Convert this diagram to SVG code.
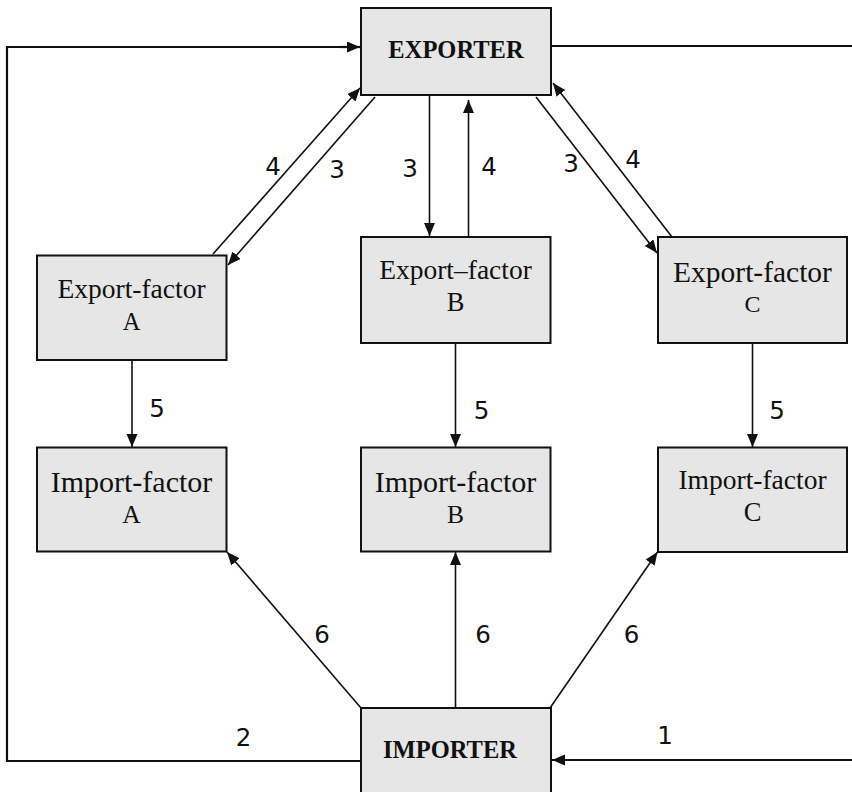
<svg xmlns="http://www.w3.org/2000/svg" width="852" height="792" viewBox="0 0 852 792">
<style>
.box{fill:#e6e6e6;stroke:#111;stroke-width:2}
.t{font-family:"Liberation Serif","Times New Roman",serif;fill:#111;text-anchor:middle}
.b{font-weight:bold}
.c{fill:none;stroke:#111;stroke-width:1.6}
.f{fill:none;stroke:#111;stroke-width:2.2}
.n{font-family:"DejaVu Sans",Verdana,sans-serif;font-size:24.5px;fill:#111;text-anchor:middle}
</style>
<defs>
<marker id="ah" markerUnits="userSpaceOnUse" markerWidth="14" markerHeight="12" refX="13" refY="5.5" orient="auto">
<path d="M0,0 L13,5.5 L0,11 z" fill="#111"/>
</marker>
</defs>
<g id="connectors">
<polyline class="f" points="11,761 7,761 7,47 349,47"/>
<line class="f" x1="340" y1="47" x2="360" y2="47" marker-end="url(#ah)"/>
<line class="f" x1="551" y1="46" x2="852" y2="46"/>
<line class="f" x1="11" y1="761" x2="361" y2="761"/>
<line class="f" x1="852" y1="760" x2="552" y2="760" marker-end="url(#ah)"/>
<line class="c" x1="213" y1="254" x2="360" y2="88" marker-end="url(#ah)"/>
<line class="c" x1="375" y1="97" x2="228" y2="265" marker-end="url(#ah)"/>
<line class="c" x1="429.5" y1="96" x2="429.5" y2="236" marker-end="url(#ah)"/>
<line class="c" x1="468.5" y1="237" x2="468.5" y2="100" marker-end="url(#ah)"/>
<line class="c" x1="536" y1="97" x2="657" y2="253" marker-end="url(#ah)"/>
<line class="c" x1="672" y1="237" x2="553" y2="83" marker-end="url(#ah)"/>
<line class="c" x1="132" y1="360" x2="132" y2="447" marker-end="url(#ah)"/>
<line class="c" x1="455.5" y1="343" x2="455.5" y2="447" marker-end="url(#ah)"/>
<line class="c" x1="752.5" y1="343" x2="752.5" y2="447" marker-end="url(#ah)"/>
<line class="c" x1="361" y1="708" x2="227" y2="552" marker-end="url(#ah)"/>
<line class="c" x1="455.5" y1="708" x2="455.5" y2="552" marker-end="url(#ah)"/>
<line class="c" x1="550" y1="708" x2="657.5" y2="552" marker-end="url(#ah)"/>
<text class="n" x="273" y="175">4</text>
<text class="n" x="337" y="178">3</text>
<text class="n" x="410" y="177">3</text>
<text class="n" x="489" y="175">4</text>
<text class="n" x="571" y="172">3</text>
<text class="n" x="633" y="168">4</text>
<text class="n" x="157" y="417">5</text>
<text class="n" x="481.5" y="419">5</text>
<text class="n" x="777" y="419">5</text>
<text class="n" x="322" y="643">6</text>
<text class="n" x="483" y="643">6</text>
<text class="n" x="631.5" y="643">6</text>
<text class="n" x="243.5" y="746">2</text>
<text class="n" x="665" y="744">1</text>
</g>
<g id="exporter">
<rect class="box" x="361" y="8" width="190" height="87"/>
<text class="t b" x="456" y="58" font-size="24.5">EXPORTER</text>
</g>
<g id="importer">
<rect class="box" x="361" y="708" width="190" height="100"/>
<text class="t b" x="450" y="758" font-size="24.5">IMPORTER</text>
</g>
<g id="export-factor-a">
<rect class="box" x="37" y="255.5" width="189.5" height="104.5"/>
<text class="t" x="131.5" y="298" font-size="27.5">Export-factor</text>
<text class="t" x="131.5" y="330" font-size="24.5">A</text>
</g>
<g id="export-factor-b">
<rect class="box" x="361" y="237" width="189.5" height="106"/>
<text class="t" x="455.5" y="279" font-size="27.5">Export–factor</text>
<text class="t" x="455.5" y="311" font-size="26.5">B</text>
</g>
<g id="export-factor-c">
<rect class="box" x="658" y="237" width="189" height="106"/>
<text class="t" x="752.5" y="282" font-size="29.5">Export-factor</text>
<text class="t" x="752.5" y="312" font-size="24">C</text>
</g>
<g id="import-factor-a">
<rect class="box" x="37" y="447.5" width="189.5" height="104"/>
<text class="t" x="131.5" y="492" font-size="30">Import-factor</text>
<text class="t" x="131.5" y="523" font-size="25.5">A</text>
</g>
<g id="import-factor-b">
<rect class="box" x="361" y="447.5" width="189.5" height="104"/>
<text class="t" x="455.5" y="492" font-size="30">Import-factor</text>
<text class="t" x="455.5" y="523" font-size="25.5">B</text>
</g>
<g id="import-factor-c">
<rect class="box" x="658" y="447.5" width="189" height="104.5"/>
<text class="t" x="752.5" y="489" font-size="27.5">Import-factor</text>
<text class="t" x="752.5" y="521" font-size="26.5">C</text>
</g>
</svg>
